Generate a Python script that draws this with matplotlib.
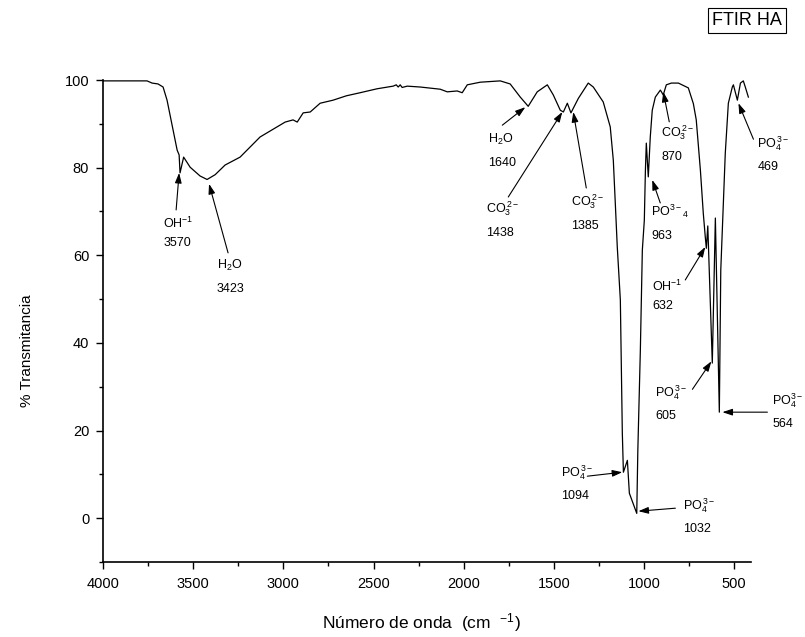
import numpy as np
import matplotlib
matplotlib.use('Agg')
import matplotlib.pyplot as plt
from matplotlib.ticker import MultipleLocator

plt.rcParams['font.family'] = ['Liberation Sans', 'DejaVu Sans']
plt.rcParams['mathtext.fontset'] = 'custom'
plt.rcParams['mathtext.rm'] = 'Liberation Sans'
plt.rcParams['mathtext.it'] = 'Liberation Sans:italic'
plt.rcParams['mathtext.bf'] = 'Liberation Sans:bold'

# FTIR spectrum of HA
wavenumber = [4000, 3850, 3756, 3728, 3695, 3667, 3645, 3617, 3589, 3578,
              3573, 3553, 3517, 3462, 3423, 3378, 3323, 3240, 3129, 2990,
              2946, 2923, 2890, 2851, 2796, 2724, 2650, 2574, 2480, 2391, 2374, 2363,
              2352, 2341, 2313, 2241, 2130, 2091, 2036, 2008, 1980, 1908,
              1797, 1742, 1686, 1642, 1592, 1536, 1503, 1464, 1447, 1425,
              1405, 1364, 1309, 1281, 1226, 1187, 1170, 1159, 1148, 1131,
              1120, 1114, 1092, 1081, 1040, 1034, 1020, 1009, 998, 992,
              987, 976, 965, 954, 937, 909, 893, 876, 848, 809,
              754, 726, 710, 687, 671, 660, 654, 646, 621, 604,
              582, 574, 549, 532, 510, 504, 482, 465, 449, 438,
              421]
transmittance = [99.8, 99.8, 99.8, 99.3, 99.1, 98.4, 95.4, 89.7, 84.0, 82.9,
                 78.8, 82.4, 80.1, 78.1, 77.3, 78.4, 80.6, 82.4, 87.0, 90.4,
                 90.9, 90.4, 92.5, 92.7, 94.7, 95.4, 96.4, 97.1, 98.0, 98.6, 98.9, 98.4,
                 98.9, 98.3, 98.6, 98.4, 97.9, 97.3, 97.5, 97.1, 98.9, 99.5,
                 99.8, 99.1, 96.1, 94.0, 97.3, 98.9, 96.6, 93.1, 92.7, 94.7,
                 92.5, 95.8, 99.3, 98.4, 95.0, 89.3, 81.7, 71.9, 61.9, 49.8,
                 19.4, 10.5, 13.2, 5.7, 1.1, 15.5, 38.4, 61.2, 68.0, 79.4,
                 85.6, 77.9, 87.0, 93.1, 96.1, 97.7, 96.6, 98.9, 99.3, 99.3,
                 98.2, 94.6, 90.9, 79.4, 69.6, 64.2, 61.6, 66.7, 35.4, 68.5,
                 24.2, 56.6, 83.3, 94.7, 98.4, 98.9, 95.4, 99.3, 99.8, 98.4,
                 96.1]

# band labels
band_formula = ['OH$^{-1}$', 'H$_2$O', 'H$_2$O', 'CO$_3^{\\,2-}$', 'CO$_3^{\\,2-}$',
                'PO$^{3-}{}_4$', 'CO$_3^{\\,2-}$', 'PO$_4^{\\,3-}$', 'OH$^{-1}$',
                'PO$_4^{\\,3-}$', 'PO$_4^{3-}$', 'PO$_4^{\\,3-}$', 'PO$_4^{\\,3-}$']
band_number = ['3570', '3423', '1640', '1438', '1385', '963', '870', '469',
               '632', '605', '564', '1094', '1032']
tip_wn = [3578, 3412, 1658, 1453, 1392, 954, 893, 476, 660, 626, 565, 1120, 1031]
tip_T = [78.8, 76.3, 93.8, 92.7, 92.7, 77.2, 97.3, 94.7, 61.9, 35.8, 24.2, 10.5, 1.6]

# layout: arrow tail and label offsets from the tip, in pixels (x right, y down)
tail_px = [(-3, 37), (19, 69), (-23, 18), (-54, 85), (13, 76), (8, 23), (6, 30),
           (15, 36), (-20, 33), (-19, 28), (45, 0), (-35, 4), (37, -3)]
text_px = [(-16, 46), (8, 76), (-37, 27), (-76, 92), (-2, 85), (-1, 27), (-2, 36),
           (19, 35), (-53, 35), (-56, 26), (50, -17), (-61, -5), (45, -11)]

PT = 0.72  # points per pixel at dpi 100

fig = plt.figure(figsize=(8.05, 6.37), dpi=100)
ax = fig.add_axes([0.128, 0.1177, 0.805, 0.7567])

ax.plot(wavenumber, transmittance, color='black', lw=0.9)

ax.set_xlim(4000, 406)
ax.set_ylim(-10, 100)
ax.xaxis.set_major_locator(MultipleLocator(500))
ax.xaxis.set_minor_locator(MultipleLocator(250))
ax.yaxis.set_major_locator(MultipleLocator(20))
ax.yaxis.set_minor_locator(MultipleLocator(10))
ax.tick_params(which='major', direction='out', length=5, width=1.0, labelsize=10.5)
ax.tick_params(which='minor', direction='out', length=3, width=1.0)
ax.tick_params(axis='x', which='major', pad=6)
ax.tick_params(axis='y', which='major', pad=5)
for side in ['top', 'right']:
    ax.spines[side].set_visible(False)
for side in ['left', 'bottom']:
    ax.spines[side].set_linewidth(1.2)

for i in range(len(band_number)):
    xy = (tip_wn[i], tip_T[i])
    tx, ty = tail_px[i]
    ax.annotate('', xy=xy, xytext=(tx * PT, -ty * PT), textcoords='offset points',
                arrowprops=dict(arrowstyle='-|>,head_length=0.6,head_width=0.2',
                                mutation_scale=10, color='black', lw=0.8,
                                shrinkA=0, shrinkB=0))
    lx, ly = text_px[i]
    gap = 18 if 'OH' in band_formula[i] else 23
    ax.annotate(band_formula[i], xy=xy, xytext=(lx * PT, -(ly + 9) * PT),
                textcoords='offset points', ha='left', va='baseline', fontsize=9)
    ax.annotate(band_number[i], xy=xy, xytext=(lx * PT, -(ly + 9 + gap) * PT),
                textcoords='offset points', ha='left', va='baseline', fontsize=9)

fig.text(0.523, 0.022, 'Número de onda  (cm  $^{-1}$)', ha='center', va='center',
         fontsize=12.5)
fig.text(0.034, 0.45, '% Transmitancia', ha='center', va='center', rotation=90,
         fontsize=11)
fig.text(747 / 805, 1 - 20.5 / 637, 'FTIR HA', ha='center', va='center', fontsize=13,
         bbox=dict(boxstyle='square,pad=0.2', fc='white', ec='black', lw=0.8))

fig.savefig('out.png', dpi=100)
